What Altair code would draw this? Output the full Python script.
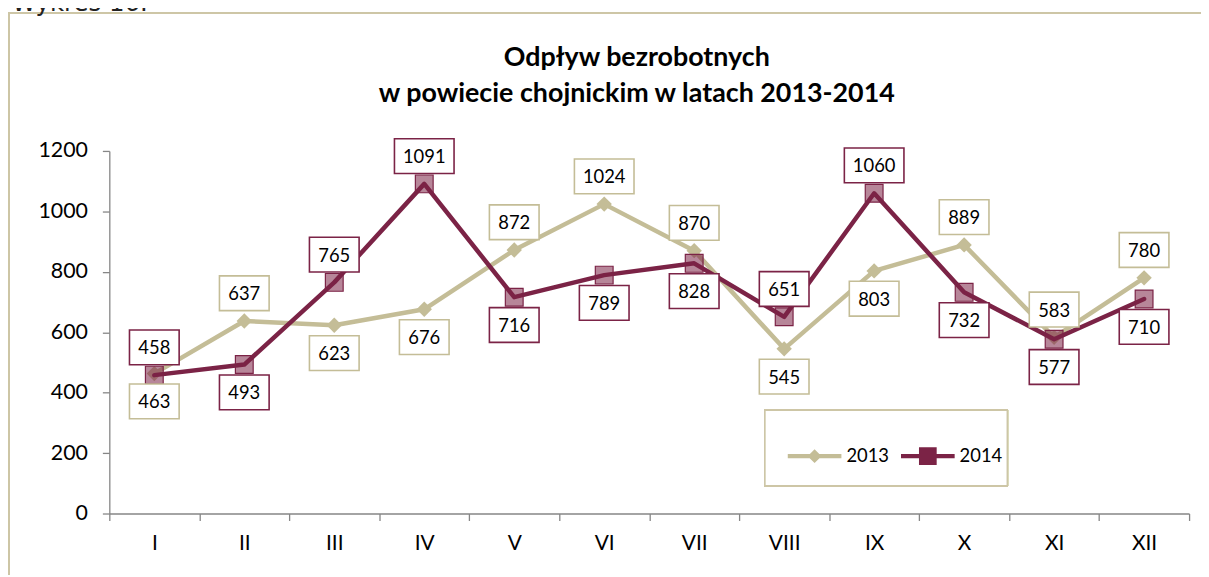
import altair as alt
import pandas as pd

months = ["I", "II", "III", "IV", "V", "VI", "VII", "VIII", "IX", "X", "XI", "XII"]
values_2013 = [463, 637, 623, 676, 872, 1024, 870, 545, 803, 889, 583, 780]
values_2014 = [458, 493, 765, 1091, 716, 789, 828, 651, 1060, 732, 577, 710]
side_2013 = ["below", "above", "below", "below", "above", "above", "above", "below", "below", "above", "above", "above"]
side_2014 = ["above", "below", "above", "above", "below", "below", "below", "above", "above", "below", "below", "below"]
series = ["2013", "2014"]
y_ticks = [0, 200, 400, 600, 800, 1000, 1200]
title_lines = ["Odpływ bezrobotnych", "w powiecie chojnickim w latach 2013-2014"]
heading_text = "Wykres 16."

rows = []
for s, vals, sides in (("2013", values_2013, side_2013), ("2014", values_2014, side_2014)):
    for m, v, sd in zip(months, vals, sides):
        rows.append({"month": m, "series": s, "value": v, "side": sd})
df = pd.DataFrame(rows)

KHAKI = "#c4bd97"
BORDER = "#cdc6a6"
MAROON = "#7b2346"
AXIS = "#868686"
FONT = "Lato"

x_enc = alt.X(
    "month:N",
    sort=months,
    scale=alt.Scale(type="band", domain=months, paddingInner=0, paddingOuter=0),
    axis=alt.Axis(
        title=None, tickBand="extent", labelAngle=0, domainColor=AXIS, tickColor=AXIS,
        domainWidth=1.3, tickWidth=1.3, tickSize=7, labelFont=FONT, labelFontSize=21,
        labelColor="black", labelPadding=12,
    ),
)
y_enc = alt.Y(
    "value:Q",
    scale=alt.Scale(domain=[0, 1200], nice=False, zero=True),
    axis=alt.Axis(
        title=None, values=y_ticks, format="d", grid=False, domainColor=AXIS, tickColor=AXIS,
        domainWidth=1.3, tickWidth=1.3, tickSize=7, labelFont=FONT, labelFontSize=21.5,
        labelColor="black", labelPadding=15,
    ),
)

base = alt.Chart(df)

border = base.mark_rect(fill=None, stroke=BORDER, strokeWidth=1.5).encode(
    x=alt.value(-101), x2=alt.value(1400), y=alt.value(-139), y2=alt.value(700)
)

heading = alt.Chart(pd.DataFrame({"t": [heading_text]})).mark_text(
    font="DejaVu Sans", fontSize=24.5, align="left", baseline="alphabetic", color="#222"
).encode(text="t:N", x=alt.value(-98), y=alt.value(-141))

title = alt.Chart(pd.DataFrame({"t": ["\n".join(title_lines)]})).mark_text(
    font=FONT, fontSize=27, fontWeight="bold", align="center", baseline="alphabetic",
    color="black", lineBreak="\n", lineHeight=37,
).encode(text="t:N", x=alt.value(531), y=alt.value(-86))

legend_box = base.mark_rect(fill="white", stroke=BORDER, strokeWidth=1.5).encode(
    x=alt.value(660), x2=alt.value(904), y=alt.value(261), y2=alt.value(337)
)

s13 = base.transform_filter("datum.series == '2013'")
s14 = base.transform_filter("datum.series == '2014'")

line13 = s13.mark_line(color=KHAKI, strokeWidth=4.5, strokeJoin="round", strokeCap="round").encode(x=x_enc, y=y_enc)
pts13 = s13.mark_point(shape="diamond", filled=True, color=KHAKI, size=240, opacity=1).encode(x=x_enc, y=y_enc)
line14 = s14.mark_line(color=MAROON, strokeWidth=4.5, strokeJoin="round", strokeCap="round").encode(x=x_enc, y=y_enc)
pts14 = s14.mark_point(
    shape="square", fill=MAROON, fillOpacity=0.55, stroke=MAROON, strokeWidth=1.2, size=320, opacity=1
).encode(x=x_enc, y=y_enc)

BOX3 = "M-1,-0.7H1V0.7H-1Z"
BOX4 = "M-1,-0.5833H1V0.5833H-1Z"


def label_layers(side, off):
    d = base.transform_filter(f"datum.side == '{side}'")
    box = d.mark_point(fill="white", fillOpacity=1, strokeWidth=1.6, opacity=1, yOffset=off).encode(
        x=x_enc, y=y_enc,
        stroke=alt.Stroke("series:N", scale=alt.Scale(domain=series, range=[KHAKI, MAROON]), legend=None),
        shape=alt.condition("datum.value >= 1000", alt.value(BOX4), alt.value(BOX3)),
        size=alt.condition("datum.value >= 1000", alt.value(3600), alt.value(2500)),
    )
    txt = d.mark_text(font=FONT, fontSize=18.5, color="black", baseline="middle", yOffset=off + 1).encode(
        x=x_enc, y=y_enc, text="value:Q"
    )
    return [box, txt]


LEG13 = "M-1,-0.083H1V0.083H-1Z M-0.26,0L0,-0.26L0.26,0L0,0.26Z"
LEG14 = "M-1,-0.083H1V0.083H-1Z M-0.33,-0.33H0.33V0.33H-0.33Z"
leg_def = alt.Legend(
    title=None, orient="none", legendX=665, legendY=269, direction="horizontal",
    labelFont=FONT, labelFontSize=18.5, labelColor="black", symbolSize=2916,
    symbolStrokeWidth=0, padding=11, labelOffset=5, columnPadding=5, symbolOffset=7,
)
legend_layer = base.transform_filter("false").mark_point(filled=True, opacity=1).encode(
    x=x_enc, y=y_enc,
    color=alt.Color("series:N", scale=alt.Scale(domain=series, range=[KHAKI, MAROON]), legend=leg_def),
    shape=alt.Shape("series:N", scale=alt.Scale(domain=series, range=[LEG13, LEG14]), legend=leg_def),
)

layers = [border, heading, title, legend_box, line13, pts13, line14, pts14]
layers += label_layers("above", -28)
layers += label_layers("below", 28)
layers.append(legend_layer)

chart = alt.layer(*layers).properties(
    width=1087,
    height=365,
    autosize=alt.AutoSizeParams(type="none"),
    padding={"left": 102, "top": 142, "right": 12, "bottom": 60},
).configure_view(stroke=None).resolve_scale(stroke="independent")

chart.save("out.html", embed_options={"renderer": "svg", "actions": False})
